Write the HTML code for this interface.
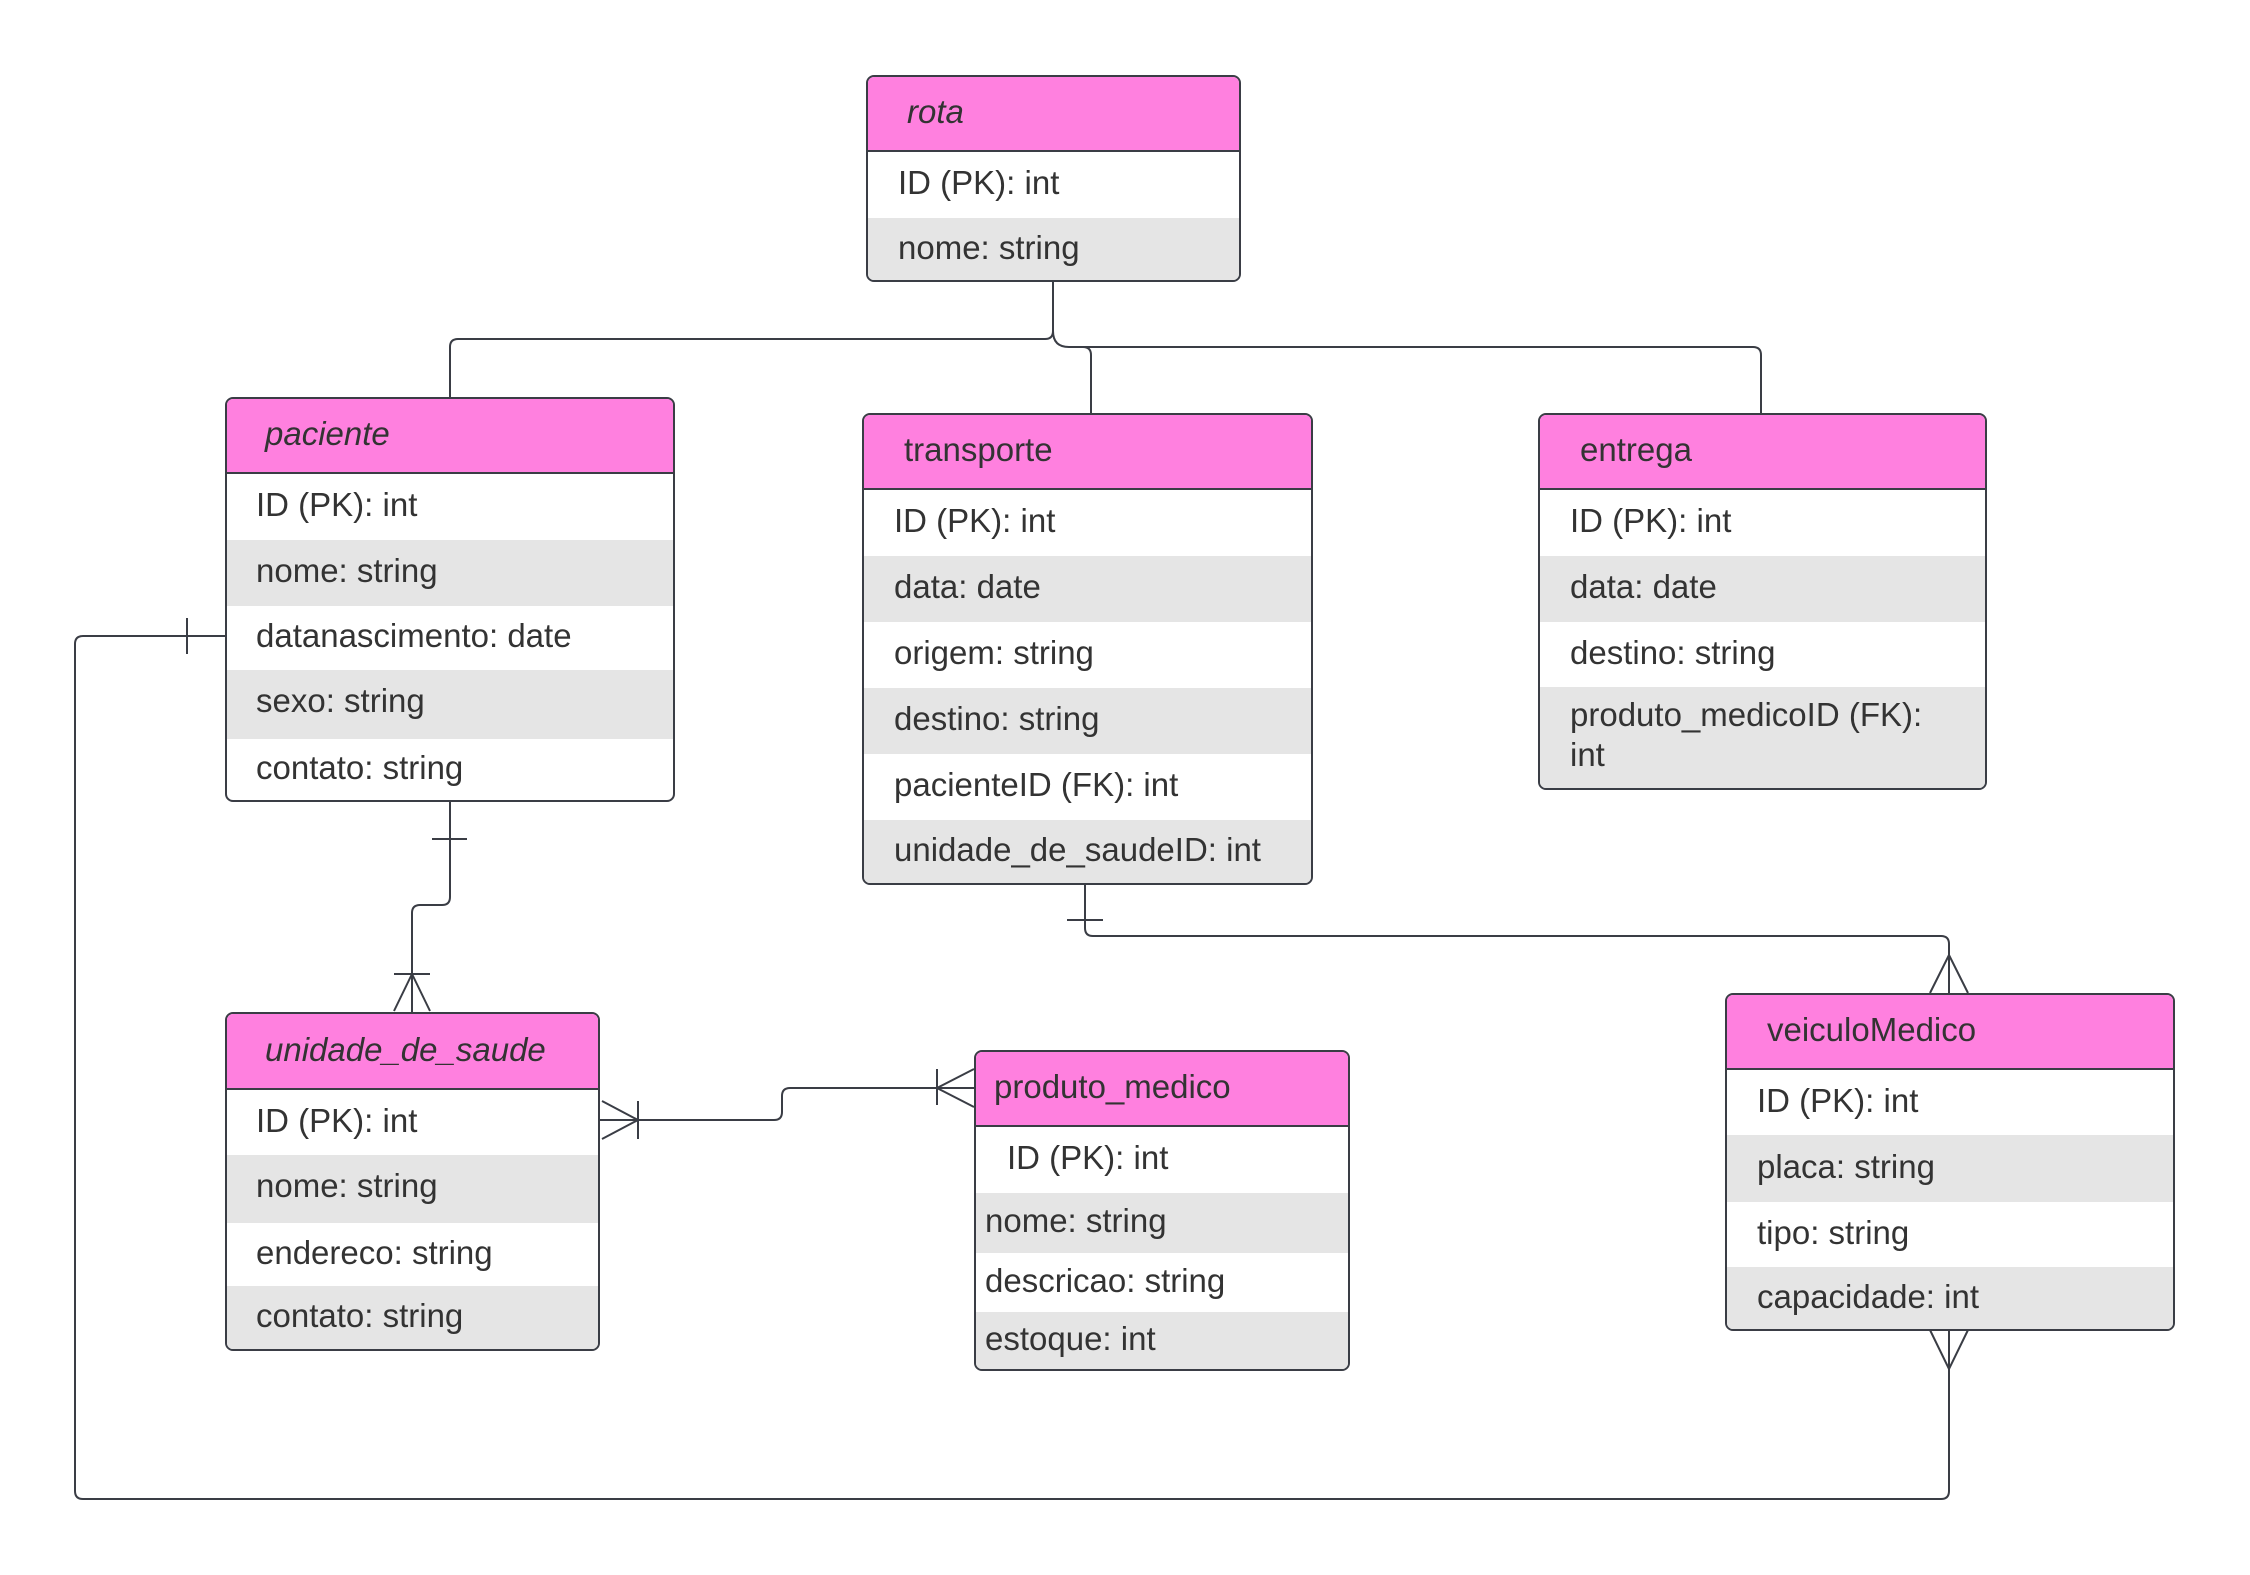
<!DOCTYPE html>
<html><head><meta charset="utf-8"><style>
body{margin:0;width:2250px;height:1575px;background:#fff;position:relative;overflow:hidden;font-family:"Liberation Sans",sans-serif;color:#333;}
.t{position:absolute;border:2px solid #3a3d45;border-radius:8px;overflow:hidden;box-sizing:border-box;background:#fff;}
.h{position:absolute;left:0;right:0;background:#ff80df;border-bottom:2px solid #3a3d45;box-sizing:border-box;font-size:33px;}
.r{position:absolute;left:0;right:0;font-size:33px;box-sizing:border-box;padding-bottom:4px;}
.g{background:#e5e5e5;}
.i{font-style:italic;}
svg{position:absolute;left:0;top:0;}
</style></head><body>
<svg width="2250" height="1575" fill="none" stroke="#3a3d45" stroke-width="2">
<path d="M1053 281 V331 Q1053 339 1045 339 H458 Q450 339 450 347 V397"/>
<path d="M1053 331 Q1053 347 1069 347 H1083 Q1091 347 1091 355 V413"/>
<path d="M1069 347 H1753 Q1761 347 1761 355 V413"/>
<path d="M225 636 H83 Q75 636 75 644 V1491 Q75 1499 83 1499 H1941 Q1949 1499 1949 1491 V1330"/>
<path d="M187 618 V654"/>
<path d="M1930 1330 L1949 1369 L1968 1330"/>
<path d="M450 800 V897 Q450 905 442 905 H420 Q412 905 412 913 V1012"/>
<path d="M432 839 H467"/>
<path d="M394 974 H430 M394 1011 L412 974 L430 1011"/>
<path d="M599 1120 H774 Q782 1120 782 1112 V1096 Q782 1088 790 1088 H974"/>
<path d="M602 1101 L638 1120 L602 1139 M638 1101 V1139"/>
<path d="M937 1069 V1105 M974 1069 L937 1088 L974 1107"/>
<path d="M1085 884 V928 Q1085 936 1093 936 H1941 Q1949 936 1949 944 V993"/>
<path d="M1067 920 H1103"/>
<path d="M1930 993 L1949 955 L1968 993"/>
</svg>

<div class="t" style="left:866px;top:75px;width:375px;height:207px;">
<div class="h i" style="top:0;height:75px;line-height:70px;padding-left:39px;">rota</div>
<div class="r" style="top:75px;height:66px;line-height:62px;padding-left:30px;">ID (PK): int</div>
<div class="r g" style="top:141px;height:66px;line-height:60px;padding-left:30px;">nome: string</div>
</div>

<div class="t" style="left:225px;top:397px;width:450px;height:405px;">
<div class="h i" style="top:0;height:75px;line-height:70px;padding-left:38px;">paciente</div>
<div class="r" style="top:75px;height:66px;line-height:62px;padding-left:29px;">ID (PK): int</div>
<div class="r g" style="top:141px;height:66px;line-height:62px;padding-left:29px;">nome: string</div>
<div class="r" style="top:207px;height:64px;line-height:60px;padding-left:29px;">datanascimento: date</div>
<div class="r g" style="top:271px;height:69px;line-height:62px;padding-left:29px;">sexo: string</div>
<div class="r" style="top:340px;height:65px;line-height:58px;padding-left:29px;">contato: string</div>
</div>

<div class="t" style="left:862px;top:413px;width:451px;height:472px;">
<div class="h" style="top:0;height:75px;line-height:70px;padding-left:40px;">transporte</div>
<div class="r" style="top:75px;height:66px;line-height:62px;padding-left:30px;">ID (PK): int</div>
<div class="r g" style="top:141px;height:66px;line-height:62px;padding-left:30px;">data: date</div>
<div class="r" style="top:207px;height:66px;line-height:62px;padding-left:30px;">origem: string</div>
<div class="r g" style="top:273px;height:66px;line-height:62px;padding-left:30px;">destino: string</div>
<div class="r" style="top:339px;height:66px;line-height:62px;padding-left:30px;">pacienteID (FK): int</div>
<div class="r g" style="top:405px;height:67px;line-height:60px;padding-left:30px;">unidade_de_saudeID: int</div>
</div>

<div class="t" style="left:1538px;top:413px;width:449px;height:377px;">
<div class="h" style="top:0;height:75px;line-height:70px;padding-left:40px;">entrega</div>
<div class="r" style="top:75px;height:66px;line-height:62px;padding-left:30px;">ID (PK): int</div>
<div class="r g" style="top:141px;height:66px;line-height:62px;padding-left:30px;">data: date</div>
<div class="r" style="top:207px;height:65px;line-height:61px;padding-left:30px;">destino: string</div>
<div class="r g" style="top:272px;height:105px;line-height:40px;padding-left:30px;padding-top:8px;">produto_medicoID (FK):<br>int</div>
</div>

<div class="t" style="left:225px;top:1012px;width:375px;height:339px;">
<div class="h i" style="top:0;height:76px;line-height:71px;padding-left:38px;">unidade_de_saude</div>
<div class="r" style="top:76px;height:65px;line-height:61px;padding-left:29px;">ID (PK): int</div>
<div class="r g" style="top:141px;height:68px;line-height:62px;padding-left:29px;">nome: string</div>
<div class="r" style="top:209px;height:63px;line-height:59px;padding-left:29px;">endereco: string</div>
<div class="r g" style="top:272px;height:67px;line-height:60px;padding-left:29px;">contato: string</div>
</div>

<div class="t" style="left:974px;top:1050px;width:376px;height:321px;">
<div class="h" style="top:0;height:75px;line-height:70px;padding-left:18px;">produto_medico</div>
<div class="r" style="top:75px;height:66px;line-height:62px;padding-left:31px;">ID (PK): int</div>
<div class="r g" style="top:141px;height:60px;line-height:55px;padding-left:9px;">nome: string</div>
<div class="r" style="top:201px;height:59px;line-height:55px;padding-left:9px;">descricao: string</div>
<div class="r g" style="top:260px;height:61px;line-height:54px;padding-left:9px;">estoque: int</div>
</div>

<div class="t" style="left:1725px;top:993px;width:450px;height:338px;">
<div class="h" style="top:0;height:75px;line-height:70px;padding-left:40px;">veiculoMedico</div>
<div class="r" style="top:75px;height:65px;line-height:61px;padding-left:30px;">ID (PK): int</div>
<div class="r g" style="top:140px;height:67px;line-height:63px;padding-left:30px;">placa: string</div>
<div class="r" style="top:207px;height:65px;line-height:61px;padding-left:30px;">tipo: string</div>
<div class="r g" style="top:272px;height:66px;line-height:59px;padding-left:30px;">capacidade: int</div>
</div>
</body></html>
